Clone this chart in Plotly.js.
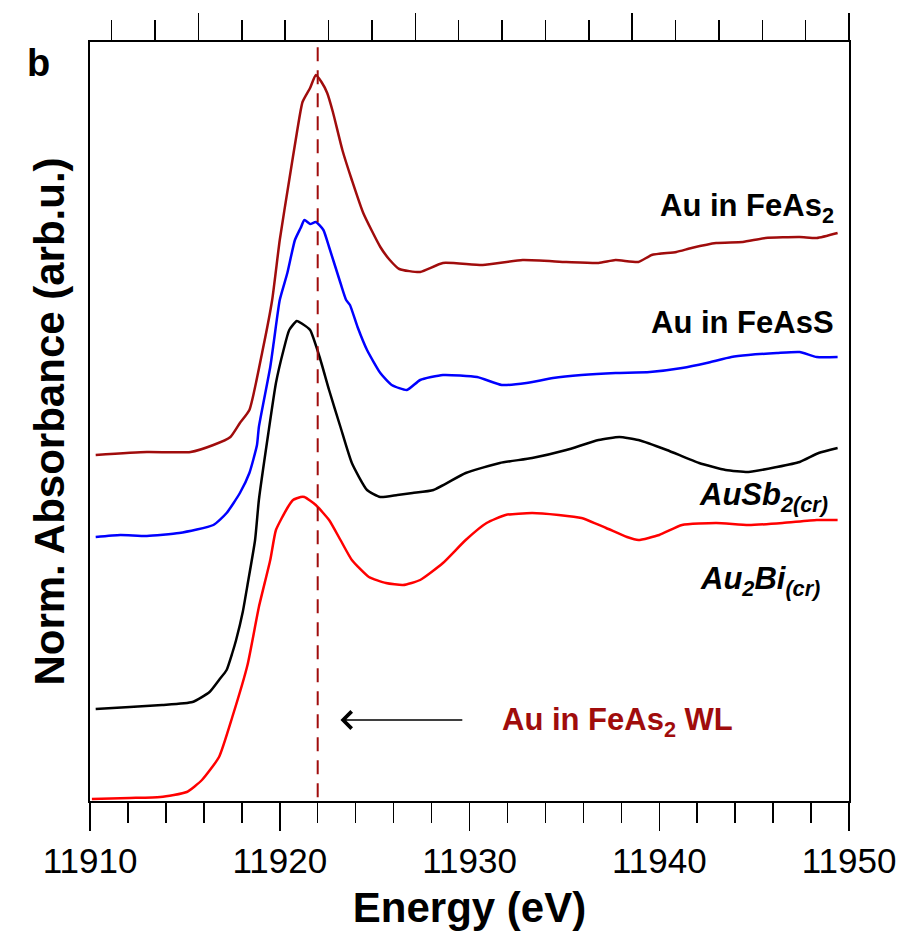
<!DOCTYPE html>
<html>
<head>
<meta charset="utf-8">
<script src="https://cdn.plot.ly/plotly-3.0.1.min.js"></script>
<style>html,body{margin:0;padding:0;background:#fff}#chart{width:906px;height:938px}</style>
</head>
<body>
<div id="chart"></div>
<script>
// Energy (eV) and normalized absorbance (offset, arb.u.)
const feas2E = [11910.3,11913.0,11915.3,11916.5,11917.4,11917.9,11918.4,11919.1,11919.6,11920.0,11920.5,11920.9,11921.2,11921.6,11921.9,11922.2,11922.5,11922.8,11923.3,11923.8,11924.4,11925.3,11925.8,11926.3,11927.4,11928.6,11930.7,11932.8,11935.1,11936.8,11937.7,11938.9,11939.6,11940.9,11941.7,11943.0,11944.4,11945.6,11947.4,11948.3,11949.4];
const feas2A = [3.46,3.49,3.49,3.56,3.64,3.78,3.91,4.51,5.01,5.61,6.21,6.68,6.99,7.13,7.26,7.19,7.08,6.89,6.51,6.21,5.88,5.54,5.41,5.32,5.29,5.38,5.36,5.41,5.39,5.38,5.41,5.39,5.46,5.49,5.53,5.58,5.59,5.63,5.64,5.63,5.68];

const feassE = [11910.3,11911.6,11913.0,11914.7,11916.5,11917.2,11917.9,11918.4,11918.8,11918.9,11919.5,11919.7,11920.0,11920.4,11920.8,11921.1,11921.3,11921.6,11921.9,11922.3,11922.6,11923.2,11923.5,11923.7,11924.1,11924.6,11925.3,11925.9,11926.7,11927.4,11928.6,11930.4,11931.7,11933.0,11934.4,11935.9,11937.7,11939.5,11941.2,11942.5,11943.8,11944.7,11946.2,11947.4,11948.3,11949.4];
const feassA = [2.64,2.66,2.65,2.68,2.76,2.88,3.08,3.28,3.56,3.74,4.34,4.61,5.01,5.28,5.61,5.73,5.81,5.77,5.79,5.71,5.54,5.18,5.01,4.96,4.74,4.51,4.28,4.16,4.11,4.21,4.26,4.24,4.16,4.18,4.23,4.26,4.28,4.29,4.33,4.38,4.44,4.46,4.48,4.49,4.44,4.44];

const ausb2E = [11910.3,11912.1,11913.8,11915.4,11916.3,11916.8,11917.2,11917.5,11917.7,11918.05,11918.3,11918.7,11918.9,11919.4,11919.8,11920.2,11920.5,11920.9,11921.2,11921.6,11922.1,11922.6,11923.2,11923.8,11924.6,11925.3,11926.2,11927.0,11928.1,11929.8,11931.6,11933.3,11935.1,11936.8,11937.9,11938.9,11940.4,11942.1,11943.5,11944.7,11946.2,11947.4,11948.4,11949.4];
const ausb2A = [0.92,0.94,0.96,0.99,1.09,1.21,1.31,1.48,1.61,1.89,2.16,2.61,3.01,3.68,4.18,4.51,4.71,4.80,4.77,4.71,4.44,4.11,3.74,3.38,3.11,3.04,3.06,3.08,3.11,3.28,3.38,3.43,3.51,3.61,3.64,3.61,3.51,3.38,3.31,3.29,3.34,3.39,3.48,3.53];

const au2biE = [11910.1,11912.1,11913.7,11915.1,11915.9,11916.8,11917.5,11918.3,11918.9,11919.5,11919.8,11920.4,11920.7,11921.1,11921.3,11921.9,11922.6,11923.2,11923.8,11924.7,11925.6,11926.5,11927.4,11928.6,11929.8,11930.9,11931.9,11933.3,11934.7,11935.9,11937.2,11938.3,11938.9,11940.0,11941.2,11943.0,11944.7,11946.5,11948.3,11949.4];
const au2biA = [0.02,0.03,0.04,0.09,0.21,0.44,0.84,1.36,1.94,2.41,2.71,2.93,3.01,3.04,3.04,2.96,2.81,2.61,2.41,2.24,2.18,2.16,2.21,2.38,2.61,2.78,2.86,2.88,2.86,2.83,2.73,2.64,2.61,2.66,2.76,2.78,2.76,2.78,2.81,2.81];

const whiteLineE = 11922;
const xTickLabels = ['11910','11920','11930','11940','11950'];

const FONT = 'Liberation Sans, Arial, sans-serif';
const DARKRED = '#a00c0c';

const ln = (c) => ({color: c, width: 2.5, shape: 'spline', smoothing: 0.5});
const traces = [
  {x: feas2E, y: feas2A, mode: 'lines', line: ln(DARKRED), name: 'Au in FeAs2'},
  {x: feassE, y: feassA, mode: 'lines', line: ln('#0000ff'), name: 'Au in FeAsS'},
  {x: ausb2E, y: ausb2A, mode: 'lines', line: ln('#000000'), name: 'AuSb2'},
  {x: au2biE, y: au2biA, mode: 'lines', line: ln('#ff0000'), name: 'Au2Bi'},
  {x: [0, 17.5], y: [null, null], xaxis: 'x2', yaxis: 'y', mode: 'lines', showlegend: false, hoverinfo: 'skip'}
];

const layout = {
  width: 906, height: 938,
  margin: {l: 90, r: 57, t: 42, b: 137},
  paper_bgcolor: '#fff', plot_bgcolor: '#fff',
  showlegend: false,
  font: {family: FONT, color: '#000'},
  xaxis: {
    range: [11910, 11950],
    tickvals: [11910, 11920, 11930, 11940, 11950],
    ticktext: xTickLabels,
    ticks: 'outside', ticklen: 28, tickwidth: 1.5, tickcolor: '#000',
    minor: {dtick: 2, tick0: 11910, ticks: 'outside', ticklen: 20, tickwidth: 1.5, tickcolor: '#000', showgrid: false},
    showline: true, linecolor: '#000', linewidth: 2, mirror: true,
    showgrid: false, zeroline: false,
    tickfont: {family: FONT, size: 35, color: '#000'},
    title: {text: '<b>Energy (eV)</b>', font: {family: FONT, size: 42, color: '#000'}, standoff: 14}
  },
  xaxis2: {
    overlaying: 'x', side: 'top', anchor: 'y',
    range: [0, 17.5],
    tickvals: [2.5, 7.5, 12.5, 17.5],
    ticks: 'outside', ticklen: 27, tickwidth: 1.5, tickcolor: '#000',
    minor: {dtick: 1, tick0: 0.5, ticks: 'outside', ticklen: 20, tickwidth: 1.5, tickcolor: '#000', showgrid: false},
    showticklabels: false, showgrid: false, zeroline: false,
    showline: true, linecolor: '#000', linewidth: 2
  },
  yaxis: {
    range: [0, 7.59],
    showticklabels: false, ticks: '', showgrid: false, zeroline: false,
    showline: true, linecolor: '#000', linewidth: 2, mirror: true,
    title: {text: '<b>Norm. Absorbance (arb.u.)</b>', font: {family: FONT, size: 42, color: '#000'}, standoff: 10}
  },
  shapes: [
    {type: 'line', xref: 'x', yref: 'paper', x0: whiteLineE, x1: whiteLineE, y0: 0.005, y1: 1,
     line: {color: DARKRED, width: 2, dash: '14px,9px'}}
  ],
  annotations: [
    {xref: 'paper', yref: 'paper', x: -0.068, y: 0.972, text: '<b>b</b>', showarrow: false,
     font: {family: FONT, size: 38, color: '#000'}, xanchor: 'center', yanchor: 'middle'},
    {xref: 'x', yref: 'y', x: 11949.3, y: 5.93, text: '<b>Au in FeAs<sub>2</sub></b>', showarrow: false,
     xanchor: 'right', yanchor: 'middle', font: {family: FONT, size: 31, color: '#000'}},
    {xref: 'x', yref: 'y', x: 11949.3, y: 4.79, text: '<b>Au in FeAsS</b>', showarrow: false,
     xanchor: 'right', yanchor: 'middle', font: {family: FONT, size: 31, color: '#000'}},
    {xref: 'x', yref: 'y', x: 11949.0, y: 3.04, text: '<b><i>AuSb<sub>2(cr)</sub></i></b>', showarrow: false,
     xanchor: 'right', yanchor: 'middle', font: {family: FONT, size: 31, color: '#000'}},
    {xref: 'x', yref: 'y', x: 11948.6, y: 2.2, text: '<b><i>Au<sub>2</sub>Bi<sub>(cr)</sub></i></b>', showarrow: false,
     xanchor: 'right', yanchor: 'middle', font: {family: FONT, size: 31, color: '#000'}},
    {xref: 'x', yref: 'y', x: 11931.6, y: 0.79, text: '<b>Au in FeAs<sub>2</sub> WL</b>', showarrow: false,
     xanchor: 'left', yanchor: 'middle', font: {family: FONT, size: 31, color: DARKRED}},
    {xref: 'x', yref: 'y', axref: 'x', ayref: 'y', x: 11923.2, y: 0.81, ax: 11929.7, ay: 0.81, text: '',
     showarrow: true, arrowhead: 4, arrowsize: 2.2, arrowwidth: 1.5, arrowcolor: '#000'}
  ]
};

Plotly.newPlot('chart', traces, layout, {staticPlot: true, displayModeBar: false});
</script>
</body>
</html>
